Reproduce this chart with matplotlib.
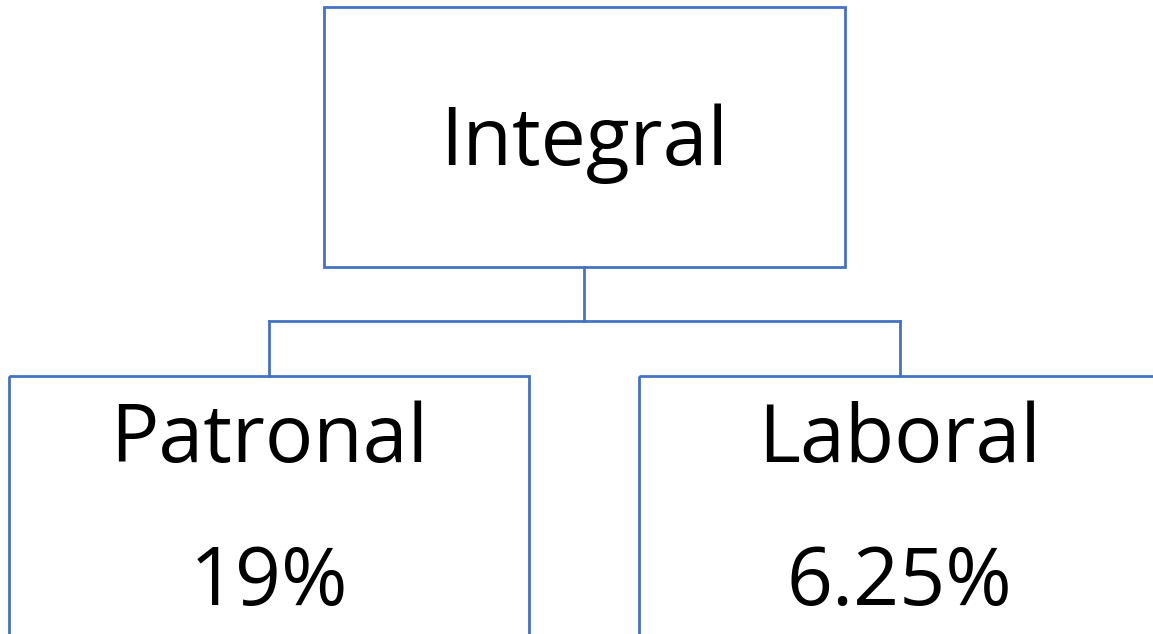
import matplotlib.pyplot as plt
from matplotlib.patches import Rectangle

# org chart content
root_label = "Integral"
child_names = ["Patronal", "Laboral"]
child_rates = ["19%", "6.25%"]

line_col = "#4472C4"
plt.rcParams['font.family'] = ['Open Sans', 'DejaVu Sans']

fig = plt.figure(figsize=(11.53, 6.34), dpi=100)
ax = fig.add_axes([0, 0, 1, 1])
ax.set_xlim(0, 1153)
ax.set_ylim(634, 0)
ax.axis('off')

lw = 2.0

# top box
ax.add_patch(Rectangle((324, 7), 521, 260, fill=False, ec=line_col, lw=lw))
ax.text(584, 165, root_label, ha='center', va='baseline', fontsize=58)

# connectors
ax.plot([584, 584], [267, 321], color=line_col, lw=lw)
ax.plot([269, 900], [321, 321], color=line_col, lw=lw)
ax.plot([269, 269], [321, 376], color=line_col, lw=lw)
ax.plot([900, 900], [321, 376], color=line_col, lw=lw)

# child boxes (cut off at the bottom / right edge)
lefts = [9, 639]
for i, (name, rate) in enumerate(zip(child_names, child_rates)):
    x0 = lefts[i]
    ax.add_patch(Rectangle((x0, 376), 520, 300, fill=False, ec=line_col, lw=lw,
                           clip_on=True))
    cx = x0 + 260
    ax.text(cx, 462, name, ha='center', va='baseline', fontsize=58)
    ax.text(cx, 605, rate, ha='center', va='baseline', fontsize=58)

fig.savefig("out.png", dpi=100)
